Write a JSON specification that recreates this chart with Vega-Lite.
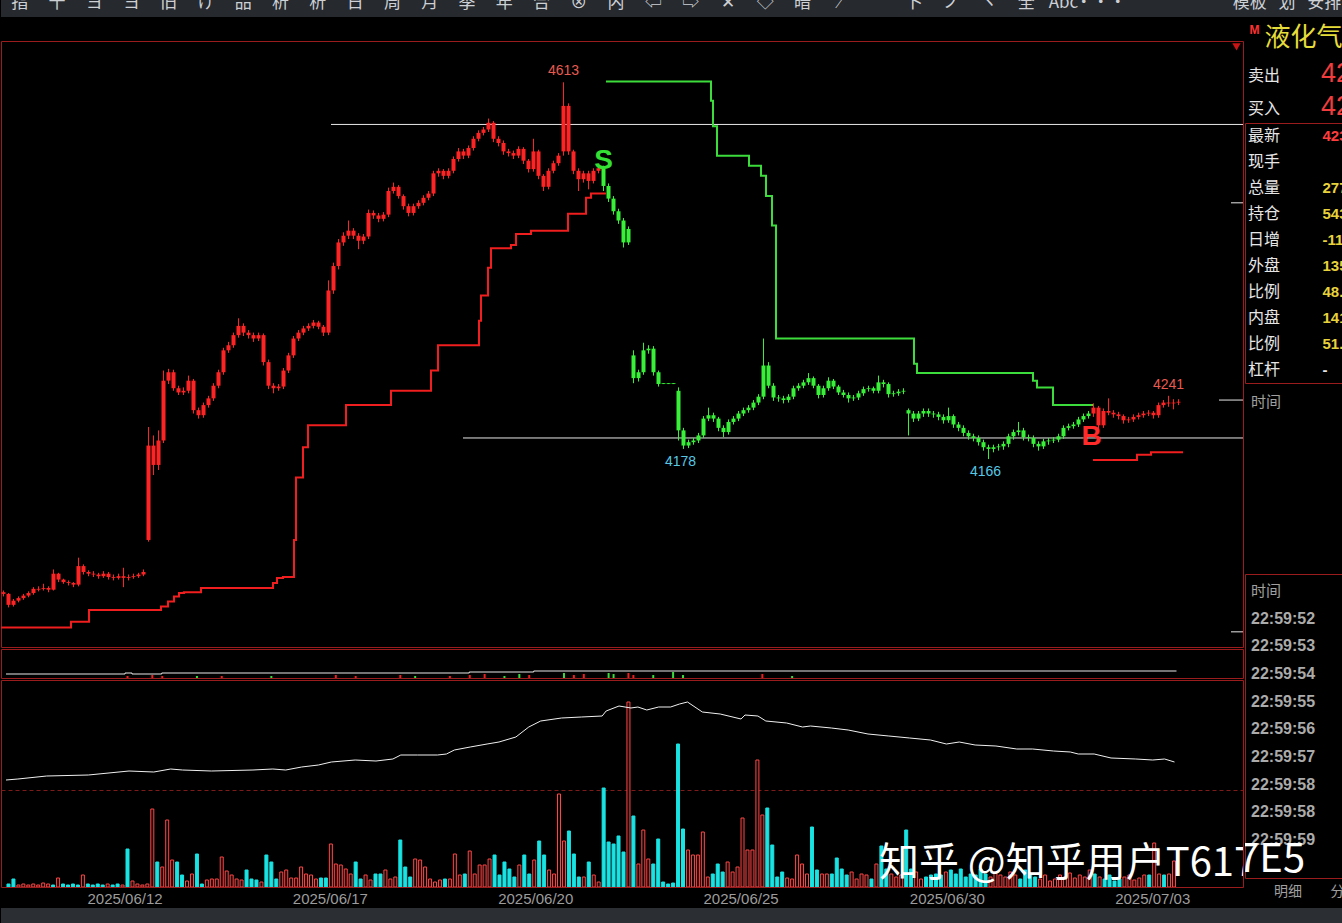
{
"$schema": "https://vega.github.io/schema/vega-lite/v6.json",
"background": "#000000",
"padding": 0,
"spacing": 0,
"config": {"view": {"stroke": "#9b1c1c", "strokeWidth": 1}, "text": {"font": "Noto Sans CJK SC"}, "axis": {"minExtent": 0, "maxExtent": 0, "tickSize": 0, "labelPadding": 0, "offset": 0}},
"datasets": {
"k": [
{"i":0,"o":4008,"h":4010,"l":4003,"c":4006,"v":30},
{"i":1,"o":4006,"h":4007,"l":3990,"c":3993,"v":80},
{"i":2,"o":3993,"h":4000,"l":3991,"c":3998,"v":20},
{"i":3,"o":3998,"h":4003,"l":3996,"c":4001,"v":30},
{"i":4,"o":4001,"h":4006,"l":3999,"c":4004,"v":20},
{"i":5,"o":4004,"h":4009,"l":4002,"c":4007,"v":30},
{"i":6,"o":4007,"h":4014,"l":4005,"c":4012,"v":20},
{"i":7,"o":4011,"h":4015,"l":4009,"c":4012,"v":40},
{"i":8,"o":4012,"h":4018,"l":4010,"c":4013,"v":30},
{"i":9,"o":4013,"h":4015,"l":4008,"c":4011,"v":20},
{"i":10,"o":4011,"h":4035,"l":4010,"c":4030,"v":90},
{"i":11,"o":4030,"h":4031,"l":4020,"c":4023,"v":30},
{"i":12,"o":4023,"h":4024,"l":4018,"c":4020,"v":20},
{"i":13,"o":4020,"h":4022,"l":4016,"c":4019,"v":30},
{"i":14,"o":4019,"h":4020,"l":4014,"c":4017,"v":20},
{"i":15,"o":4017,"h":4049,"l":4015,"c":4039,"v":120},
{"i":16,"o":4039,"h":4041,"l":4029,"c":4032,"v":30},
{"i":17,"o":4032,"h":4034,"l":4027,"c":4030,"v":20},
{"i":18,"o":4030,"h":4033,"l":4026,"c":4029,"v":30},
{"i":19,"o":4029,"h":4031,"l":4024,"c":4027,"v":20},
{"i":20,"o":4027,"h":4033,"l":4025,"c":4030,"v":30},
{"i":21,"o":4030,"h":4032,"l":4023,"c":4026,"v":20},
{"i":22,"o":4026,"h":4029,"l":4022,"c":4025,"v":30},
{"i":23,"o":4025,"h":4030,"l":4023,"c":4027,"v":20},
{"i":24,"o":4027,"h":4037,"l":4014,"c":4025,"v":380},
{"i":25,"o":4025,"h":4029,"l":4022,"c":4026,"v":60},
{"i":26,"o":4026,"h":4030,"l":4024,"c":4027,"v":30},
{"i":27,"o":4027,"h":4031,"l":4025,"c":4029,"v":20},
{"i":28,"o":4029,"h":4035,"l":4027,"c":4032,"v":30},
{"i":29,"o":4070,"h":4204,"l":4068,"c":4182,"v":780},
{"i":30,"o":4182,"h":4194,"l":4147,"c":4159,"v":250},
{"i":31,"o":4159,"h":4200,"l":4153,"c":4188,"v":200},
{"i":32,"o":4188,"h":4271,"l":4185,"c":4259,"v":670},
{"i":33,"o":4259,"h":4273,"l":4255,"c":4269,"v":270},
{"i":34,"o":4269,"h":4272,"l":4247,"c":4250,"v":250},
{"i":35,"o":4250,"h":4253,"l":4242,"c":4245,"v":120},
{"i":36,"o":4245,"h":4251,"l":4242,"c":4247,"v":60},
{"i":37,"o":4247,"h":4265,"l":4244,"c":4259,"v":130},
{"i":38,"o":4259,"h":4261,"l":4220,"c":4224,"v":330},
{"i":39,"o":4224,"h":4227,"l":4214,"c":4218,"v":30},
{"i":40,"o":4218,"h":4233,"l":4215,"c":4230,"v":70},
{"i":41,"o":4230,"h":4241,"l":4227,"c":4238,"v":80},
{"i":42,"o":4238,"h":4256,"l":4235,"c":4253,"v":80},
{"i":43,"o":4253,"h":4272,"l":4250,"c":4269,"v":300},
{"i":44,"o":4269,"h":4298,"l":4266,"c":4295,"v":160},
{"i":45,"o":4295,"h":4305,"l":4292,"c":4301,"v":120},
{"i":46,"o":4301,"h":4316,"l":4298,"c":4313,"v":80},
{"i":47,"o":4313,"h":4333,"l":4310,"c":4324,"v":70},
{"i":48,"o":4324,"h":4327,"l":4312,"c":4316,"v":170},
{"i":49,"o":4316,"h":4319,"l":4309,"c":4313,"v":80},
{"i":50,"o":4313,"h":4316,"l":4305,"c":4309,"v":70},
{"i":51,"o":4309,"h":4316,"l":4306,"c":4313,"v":50},
{"i":52,"o":4313,"h":4315,"l":4277,"c":4281,"v":320},
{"i":53,"o":4281,"h":4284,"l":4249,"c":4253,"v":250},
{"i":54,"o":4253,"h":4256,"l":4244,"c":4250,"v":80},
{"i":55,"o":4250,"h":4255,"l":4247,"c":4252,"v":150},
{"i":56,"o":4252,"h":4274,"l":4249,"c":4271,"v":170},
{"i":57,"o":4271,"h":4292,"l":4268,"c":4289,"v":90},
{"i":58,"o":4289,"h":4312,"l":4286,"c":4309,"v":90},
{"i":59,"o":4309,"h":4319,"l":4306,"c":4316,"v":200},
{"i":60,"o":4316,"h":4324,"l":4313,"c":4321,"v":130},
{"i":61,"o":4321,"h":4327,"l":4318,"c":4324,"v":120},
{"i":62,"o":4324,"h":4331,"l":4321,"c":4328,"v":80},
{"i":63,"o":4328,"h":4330,"l":4320,"c":4323,"v":90},
{"i":64,"o":4323,"h":4325,"l":4312,"c":4316,"v":90},
{"i":65,"o":4316,"h":4378,"l":4313,"c":4366,"v":430},
{"i":66,"o":4366,"h":4399,"l":4362,"c":4395,"v":230},
{"i":67,"o":4395,"h":4427,"l":4391,"c":4423,"v":220},
{"i":68,"o":4423,"h":4435,"l":4419,"c":4431,"v":180},
{"i":69,"o":4431,"h":4449,"l":4427,"c":4437,"v":130},
{"i":70,"o":4437,"h":4440,"l":4427,"c":4431,"v":250},
{"i":71,"o":4431,"h":4434,"l":4415,"c":4425,"v":80},
{"i":72,"o":4425,"h":4433,"l":4421,"c":4430,"v":120},
{"i":73,"o":4430,"h":4462,"l":4427,"c":4458,"v":70},
{"i":74,"o":4458,"h":4461,"l":4451,"c":4455,"v":130},
{"i":75,"o":4455,"h":4458,"l":4447,"c":4451,"v":130},
{"i":76,"o":4451,"h":4459,"l":4448,"c":4456,"v":170},
{"i":77,"o":4456,"h":4488,"l":4453,"c":4484,"v":80},
{"i":78,"o":4484,"h":4494,"l":4481,"c":4489,"v":100},
{"i":79,"o":4489,"h":4491,"l":4475,"c":4478,"v":470},
{"i":80,"o":4478,"h":4480,"l":4462,"c":4466,"v":200},
{"i":81,"o":4466,"h":4469,"l":4454,"c":4458,"v":100},
{"i":82,"o":4458,"h":4469,"l":4455,"c":4466,"v":280},
{"i":83,"o":4466,"h":4473,"l":4463,"c":4470,"v":270},
{"i":84,"o":4470,"h":4479,"l":4467,"c":4476,"v":200},
{"i":85,"o":4476,"h":4484,"l":4473,"c":4481,"v":80},
{"i":86,"o":4481,"h":4508,"l":4478,"c":4505,"v":50},
{"i":87,"o":4505,"h":4511,"l":4501,"c":4508,"v":70},
{"i":88,"o":4508,"h":4510,"l":4498,"c":4502,"v":80},
{"i":89,"o":4502,"h":4511,"l":4499,"c":4508,"v":80},
{"i":90,"o":4508,"h":4525,"l":4505,"c":4522,"v":330},
{"i":91,"o":4522,"h":4535,"l":4519,"c":4531,"v":120},
{"i":92,"o":4531,"h":4534,"l":4522,"c":4526,"v":130},
{"i":93,"o":4526,"h":4538,"l":4523,"c":4535,"v":360},
{"i":94,"o":4535,"h":4549,"l":4532,"c":4546,"v":130},
{"i":95,"o":4546,"h":4556,"l":4543,"c":4553,"v":220},
{"i":96,"o":4553,"h":4560,"l":4550,"c":4557,"v":220},
{"i":97,"o":4557,"h":4570,"l":4554,"c":4565,"v":280},
{"i":98,"o":4565,"h":4567,"l":4542,"c":4546,"v":320},
{"i":99,"o":4546,"h":4549,"l":4537,"c":4541,"v":120},
{"i":100,"o":4541,"h":4544,"l":4527,"c":4531,"v":250},
{"i":101,"o":4531,"h":4534,"l":4525,"c":4529,"v":180},
{"i":102,"o":4529,"h":4532,"l":4522,"c":4526,"v":100},
{"i":103,"o":4526,"h":4537,"l":4523,"c":4534,"v":220},
{"i":104,"o":4534,"h":4536,"l":4516,"c":4520,"v":320},
{"i":105,"o":4520,"h":4522,"l":4506,"c":4510,"v":130},
{"i":106,"o":4510,"h":4546,"l":4507,"c":4531,"v":270},
{"i":107,"o":4531,"h":4533,"l":4498,"c":4502,"v":460},
{"i":108,"o":4502,"h":4504,"l":4484,"c":4489,"v":320},
{"i":109,"o":4489,"h":4511,"l":4486,"c":4508,"v":170},
{"i":110,"o":4508,"h":4520,"l":4505,"c":4517,"v":130},
{"i":111,"o":4517,"h":4529,"l":4514,"c":4526,"v":930},
{"i":112,"o":4531,"h":4613,"l":4526,"c":4585,"v":460},
{"i":113,"o":4585,"h":4588,"l":4527,"c":4531,"v":560},
{"i":114,"o":4531,"h":4533,"l":4504,"c":4508,"v":330},
{"i":115,"o":4508,"h":4511,"l":4484,"c":4498,"v":100},
{"i":116,"o":4498,"h":4508,"l":4494,"c":4505,"v":100},
{"i":117,"o":4505,"h":4508,"l":4486,"c":4496,"v":250},
{"i":118,"o":4496,"h":4511,"l":4493,"c":4508,"v":120},
{"i":119,"o":4508,"h":4514,"l":4505,"c":4511,"v":50},
{"i":120,"o":4511,"h":4514,"l":4484,"c":4490,"v":990},
{"i":121,"o":4490,"h":4493,"l":4471,"c":4475,"v":450},
{"i":122,"o":4475,"h":4478,"l":4456,"c":4460,"v":430},
{"i":123,"o":4460,"h":4463,"l":4445,"c":4449,"v":510},
{"i":124,"o":4449,"h":4452,"l":4417,"c":4423,"v":350},
{"i":125,"o":4423,"h":4442,"l":4420,"c":4439,"v":1850},
{"i":126,"o":4289,"h":4295,"l":4256,"c":4262,"v":710},
{"i":127,"o":4262,"h":4272,"l":4258,"c":4269,"v":230},
{"i":128,"o":4269,"h":4304,"l":4266,"c":4295,"v":570},
{"i":129,"o":4295,"h":4301,"l":4291,"c":4297,"v":280},
{"i":130,"o":4297,"h":4300,"l":4265,"c":4269,"v":230},
{"i":131,"o":4269,"h":4271,"l":4252,"c":4255,"v":480},
{"i":132,"o":4256,"h":4256,"l":4255,"c":4255,"v":50},
{"i":133,"o":4256,"h":4256,"l":4255,"c":4255,"v":30},
{"i":134,"o":4256,"h":4256,"l":4255,"c":4255,"v":40},
{"i":135,"o":4247,"h":4251,"l":4188,"c":4200,"v":1430},
{"i":136,"o":4200,"h":4203,"l":4178,"c":4182,"v":580},
{"i":137,"o":4182,"h":4189,"l":4179,"c":4186,"v":370},
{"i":138,"o":4186,"h":4191,"l":4183,"c":4188,"v":320},
{"i":139,"o":4188,"h":4197,"l":4185,"c":4194,"v":320},
{"i":140,"o":4194,"h":4217,"l":4191,"c":4214,"v":550},
{"i":141,"o":4214,"h":4227,"l":4211,"c":4218,"v":100},
{"i":142,"o":4218,"h":4221,"l":4210,"c":4214,"v":130},
{"i":143,"o":4214,"h":4216,"l":4199,"c":4203,"v":230},
{"i":144,"o":4203,"h":4206,"l":4192,"c":4198,"v":150},
{"i":145,"o":4198,"h":4213,"l":4195,"c":4210,"v":250},
{"i":146,"o":4210,"h":4217,"l":4207,"c":4214,"v":150},
{"i":147,"o":4214,"h":4223,"l":4211,"c":4220,"v":200},
{"i":148,"o":4220,"h":4227,"l":4217,"c":4224,"v":690},
{"i":149,"o":4224,"h":4230,"l":4221,"c":4227,"v":370},
{"i":150,"o":4227,"h":4236,"l":4224,"c":4233,"v":370},
{"i":151,"o":4233,"h":4243,"l":4230,"c":4240,"v":1270},
{"i":152,"o":4240,"h":4309,"l":4237,"c":4277,"v":720},
{"i":153,"o":4277,"h":4281,"l":4250,"c":4253,"v":790},
{"i":154,"o":4253,"h":4256,"l":4235,"c":4239,"v":420},
{"i":155,"o":4239,"h":4242,"l":4234,"c":4238,"v":100},
{"i":156,"o":4238,"h":4241,"l":4232,"c":4236,"v":150},
{"i":157,"o":4236,"h":4243,"l":4233,"c":4240,"v":90},
{"i":158,"o":4240,"h":4253,"l":4237,"c":4250,"v":80},
{"i":159,"o":4250,"h":4256,"l":4247,"c":4253,"v":320},
{"i":160,"o":4253,"h":4260,"l":4250,"c":4257,"v":230},
{"i":161,"o":4257,"h":4268,"l":4254,"c":4262,"v":130},
{"i":162,"o":4262,"h":4264,"l":4250,"c":4253,"v":600},
{"i":163,"o":4253,"h":4255,"l":4238,"c":4242,"v":170},
{"i":164,"o":4242,"h":4253,"l":4239,"c":4250,"v":130},
{"i":165,"o":4250,"h":4263,"l":4247,"c":4259,"v":130},
{"i":166,"o":4259,"h":4261,"l":4249,"c":4252,"v":130},
{"i":167,"o":4252,"h":4254,"l":4242,"c":4245,"v":290},
{"i":168,"o":4245,"h":4248,"l":4239,"c":4242,"v":180},
{"i":169,"o":4242,"h":4245,"l":4233,"c":4238,"v":120},
{"i":170,"o":4238,"h":4242,"l":4235,"c":4239,"v":150},
{"i":171,"o":4239,"h":4247,"l":4236,"c":4244,"v":80},
{"i":172,"o":4244,"h":4252,"l":4241,"c":4249,"v":130},
{"i":173,"o":4249,"h":4253,"l":4246,"c":4250,"v":120},
{"i":174,"o":4250,"h":4252,"l":4244,"c":4247,"v":80},
{"i":175,"o":4247,"h":4265,"l":4244,"c":4257,"v":230},
{"i":176,"o":4257,"h":4260,"l":4251,"c":4255,"v":410},
{"i":177,"o":4255,"h":4257,"l":4239,"c":4243,"v":180},
{"i":178,"o":4243,"h":4247,"l":4240,"c":4244,"v":130},
{"i":179,"o":4244,"h":4249,"l":4241,"c":4246,"v":100},
{"i":180,"o":4246,"h":4250,"l":4243,"c":4247,"v":120},
{"i":181,"o":4224,"h":4226,"l":4194,"c":4220,"v":570},
{"i":182,"o":4220,"h":4223,"l":4210,"c":4214,"v":180},
{"i":183,"o":4214,"h":4223,"l":4211,"c":4220,"v":150},
{"i":184,"o":4220,"h":4226,"l":4216,"c":4223,"v":80},
{"i":185,"o":4223,"h":4226,"l":4216,"c":4220,"v":100},
{"i":186,"o":4220,"h":4223,"l":4215,"c":4219,"v":120},
{"i":187,"o":4219,"h":4222,"l":4212,"c":4216,"v":130},
{"i":188,"o":4216,"h":4219,"l":4208,"c":4212,"v":120},
{"i":189,"o":4212,"h":4227,"l":4209,"c":4217,"v":150},
{"i":190,"o":4217,"h":4219,"l":4203,"c":4207,"v":170},
{"i":191,"o":4207,"h":4210,"l":4199,"c":4203,"v":130},
{"i":192,"o":4203,"h":4206,"l":4193,"c":4197,"v":180},
{"i":193,"o":4197,"h":4200,"l":4189,"c":4193,"v":100},
{"i":194,"o":4193,"h":4196,"l":4187,"c":4191,"v":130},
{"i":195,"o":4191,"h":4194,"l":4182,"c":4186,"v":120},
{"i":196,"o":4186,"h":4189,"l":4176,"c":4180,"v":180},
{"i":197,"o":4180,"h":4183,"l":4166,"c":4178,"v":130},
{"i":198,"o":4178,"h":4183,"l":4174,"c":4180,"v":100},
{"i":199,"o":4180,"h":4184,"l":4176,"c":4181,"v":150},
{"i":200,"o":4181,"h":4187,"l":4177,"c":4184,"v":120},
{"i":201,"o":4184,"h":4196,"l":4180,"c":4193,"v":100},
{"i":202,"o":4193,"h":4201,"l":4189,"c":4198,"v":150},
{"i":203,"o":4198,"h":4210,"l":4194,"c":4200,"v":120},
{"i":204,"o":4200,"h":4203,"l":4188,"c":4192,"v":80},
{"i":205,"o":4192,"h":4195,"l":4187,"c":4191,"v":170},
{"i":206,"o":4191,"h":4194,"l":4180,"c":4184,"v":130},
{"i":207,"o":4184,"h":4187,"l":4176,"c":4181,"v":100},
{"i":208,"o":4181,"h":4190,"l":4178,"c":4187,"v":80},
{"i":209,"o":4187,"h":4191,"l":4183,"c":4188,"v":120},
{"i":210,"o":4188,"h":4192,"l":4185,"c":4189,"v":60},
{"i":211,"o":4189,"h":4196,"l":4186,"c":4193,"v":80},
{"i":212,"o":4193,"h":4206,"l":4190,"c":4203,"v":120},
{"i":213,"o":4203,"h":4208,"l":4200,"c":4205,"v":100},
{"i":214,"o":4205,"h":4210,"l":4202,"c":4207,"v":140},
{"i":215,"o":4207,"h":4216,"l":4204,"c":4213,"v":90},
{"i":216,"o":4213,"h":4220,"l":4210,"c":4217,"v":120},
{"i":217,"o":4217,"h":4223,"l":4214,"c":4220,"v":100},
{"i":218,"o":4220,"h":4232,"l":4216,"c":4227,"v":170},
{"i":219,"o":4227,"h":4229,"l":4200,"c":4206,"v":130},
{"i":220,"o":4206,"h":4226,"l":4203,"c":4223,"v":100},
{"i":221,"o":4223,"h":4238,"l":4218,"c":4221,"v":80},
{"i":222,"o":4221,"h":4224,"l":4215,"c":4219,"v":120},
{"i":223,"o":4219,"h":4222,"l":4213,"c":4217,"v":60},
{"i":224,"o":4217,"h":4219,"l":4208,"c":4212,"v":80},
{"i":225,"o":4212,"h":4216,"l":4209,"c":4213,"v":100},
{"i":226,"o":4213,"h":4219,"l":4210,"c":4216,"v":120},
{"i":227,"o":4216,"h":4221,"l":4213,"c":4218,"v":70},
{"i":228,"o":4218,"h":4223,"l":4215,"c":4220,"v":90},
{"i":229,"o":4220,"h":4224,"l":4217,"c":4221,"v":120},
{"i":230,"o":4221,"h":4223,"l":4214,"c":4218,"v":120},
{"i":231,"o":4218,"h":4233,"l":4215,"c":4230,"v":440},
{"i":232,"o":4230,"h":4236,"l":4227,"c":4233,"v":130},
{"i":233,"o":4233,"h":4241,"l":4228,"c":4232,"v":120},
{"i":234,"o":4232,"h":4237,"l":4225,"c":4233,"v":130},
{"i":235,"o":4233,"h":4237,"l":4230,"c":4234,"v":260}
],
"stop": [
{"s":"r1","i":-0.5,"p":3966},{"s":"r1","i":13.5,"p":3973},{"s":"r1","i":17.1,"p":3987},{"s":"r1","i":31.5,"p":3991},
{"s":"r1","i":32.9,"p":3997},{"s":"r1","i":34.1,"p":4003},{"s":"r1","i":35.1,"p":4007},{"s":"r1","i":36.1,"p":4008},
{"s":"r1","i":39.5,"p":4013},{"s":"r1","i":53.9,"p":4019},{"s":"r1","i":54.7,"p":4025},{"s":"r1","i":55.9,"p":4026},
{"s":"r1","i":58.1,"p":4070},{"s":"r1","i":58.5,"p":4144},{"s":"r1","i":59.9,"p":4180},{"s":"r1","i":60.9,"p":4206},
{"s":"r1","i":68.5,"p":4230},{"s":"r1","i":77.5,"p":4247},{"s":"r1","i":85.5,"p":4271},{"s":"r1","i":86.9,"p":4301},
{"s":"r1","i":95.1,"p":4330},{"s":"r1","i":95.5,"p":4360},{"s":"r1","i":96.9,"p":4393},{"s":"r1","i":97.5,"p":4416},
{"s":"r1","i":101.5,"p":4420},{"s":"r1","i":102.5,"p":4433},{"s":"r1","i":105.5,"p":4437},{"s":"r1","i":112.9,"p":4457},
{"s":"r1","i":116.5,"p":4476},{"s":"r1","i":117.5,"p":4481},{"s":"r1","i":120.5,"p":4481},
{"s":"g","i":120.5,"p":4614},{"s":"g","i":141.5,"p":4591},{"s":"g","i":141.9,"p":4561},{"s":"g","i":142.7,"p":4526},
{"s":"g","i":149.1,"p":4514},{"s":"g","i":151.5,"p":4502},{"s":"g","i":152.5,"p":4478},{"s":"g","i":153.7,"p":4443},
{"s":"g","i":154.5,"p":4309},{"s":"g","i":182.1,"p":4279},{"s":"g","i":182.7,"p":4268},{"s":"g","i":205.9,"p":4259},
{"s":"g","i":206.7,"p":4251},{"s":"g","i":209.9,"p":4230},{"s":"g","i":217.9,"p":4230},
{"s":"r2","i":217.9,"p":4165},{"s":"r2","i":226.7,"p":4171},{"s":"r2","i":229.5,"p":4174},{"s":"r2","i":235.9,"p":4174}
],
"oi": [
{"i":-0.5,"oi":489000},{"i":1.9,"oi":492000},{"i":7.7,"oi":501000},{"i":16.1,"oi":504000},{"i":24.3,"oi":516000},
{"i":29.3,"oi":513000},{"i":32.7,"oi":522000},{"i":35.1,"oi":519000},{"i":40.9,"oi":516000},{"i":49.3,"oi":519000},
{"i":53.3,"oi":522000},{"i":55.9,"oi":519000},{"i":59.1,"oi":528000},{"i":62.5,"oi":534000},{"i":65.1,"oi":543000},
{"i":69.9,"oi":549000},{"i":74.1,"oi":546000},{"i":77.5,"oi":552000},{"i":79.1,"oi":564000},{"i":82.5,"oi":564000},
{"i":86.5,"oi":564000},{"i":88.3,"oi":567000},{"i":89.9,"oi":579000},{"i":93.1,"oi":588000},{"i":96.5,"oi":597000},
{"i":98.9,"oi":603000},{"i":102.3,"oi":618000},{"i":104.9,"oi":648000},{"i":107.3,"oi":666000},{"i":111.5,"oi":675000},
{"i":115.5,"oi":678000},{"i":119.7,"oi":681000},{"i":120.5,"oi":696000},{"i":123.1,"oi":711000},{"i":125.5,"oi":705000},
{"i":126.9,"oi":708000},{"i":128.7,"oi":699000},{"i":131.1,"oi":708000},{"i":133.5,"oi":708000},{"i":135.3,"oi":717000},
{"i":136.9,"oi":723000},{"i":139.9,"oi":693000},{"i":143.5,"oi":687000},{"i":147.7,"oi":672000},{"i":148.5,"oi":684000},
{"i":151.1,"oi":681000},{"i":152.7,"oi":666000},{"i":156.9,"oi":660000},{"i":160.1,"oi":648000},{"i":161.7,"oi":651000},
{"i":165.9,"oi":645000},{"i":169.3,"oi":639000},{"i":173.3,"oi":627000},{"i":177.5,"oi":621000},{"i":181.7,"oi":615000},
{"i":185.9,"oi":609000},{"i":189.1,"oi":597000},{"i":191.7,"oi":603000},{"i":194.9,"oi":594000},{"i":199.1,"oi":591000},
{"i":203.3,"oi":582000},{"i":206.5,"oi":582000},{"i":210.7,"oi":576000},{"i":214.1,"oi":573000},{"i":215.7,"oi":567000},
{"i":218.9,"oi":567000},{"i":222.3,"oi":555000},{"i":227.3,"oi":552000},{"i":230.7,"oi":549000},{"i":233.1,"oi":552000},
{"i":235.1,"oi":543000}
],
"osc": [
{"i":-0.5,"v":4},{"i":23.5,"v":5},{"i":24.9,"v":4},{"i":30.9,"v":5},{"i":92.9,"v":6},{"i":105.9,"v":7},{"i":235.5,"v":7}
],
"oscbar": [
{"i":24,"b":2,"d":"up"},{"i":29,"b":3,"d":"up"},{"i":31,"b":2,"d":"up"},{"i":38,"b":2,"d":"down"},{"i":43,"b":2,"d":"up"},
{"i":53,"b":2,"d":"down"},{"i":66,"b":3,"d":"up"},{"i":70,"b":2,"d":"up"},{"i":79,"b":3,"d":"up"},{"i":82,"b":2,"d":"down"},
{"i":89,"b":2,"d":"up"},{"i":93,"b":3,"d":"up"},{"i":96,"b":4,"d":"up"},{"i":100,"b":2,"d":"down"},{"i":103,"b":4,"d":"down"},
{"i":105,"b":3,"d":"up"},{"i":112,"b":5,"d":"down"},{"i":114,"b":3,"d":"up"},{"i":116,"b":4,"d":"up"},{"i":121,"b":5,"d":"down"},
{"i":122,"b":4,"d":"down"},{"i":125,"b":5,"d":"up"},{"i":126,"b":3,"d":"up"},{"i":130,"b":3,"d":"down"},{"i":134,"b":6,"d":"down"},
{"i":136,"b":3,"d":"down"},{"i":152,"b":4,"d":"up"},{"i":158,"b":2,"d":"down"}
],
"tools": [
{"k":0,"g":"指"},{"k":1,"g":"十"},{"k":2,"g":"ヨ"},{"k":3,"g":"ヨ"},{"k":4,"g":"旧"},{"k":5,"g":"け"},{"k":6,"g":"品"},
{"k":7,"g":"析"},{"k":8,"g":"析"},{"k":9,"g":"日"},{"k":10,"g":"周"},{"k":11,"g":"月"},{"k":12,"g":"季"},{"k":13,"g":"年"},
{"k":14,"g":"合"},{"k":15,"g":"⊗"},{"k":16,"g":"内"},{"k":17,"g":"⇦"},{"k":18,"g":"⇨"},{"k":19,"g":"✕"},{"k":20,"g":"◇"},
{"k":21,"g":"暗"},{"k":22,"g":"⁄"},{"k":23,"g":""},{"k":24,"g":"卜"},{"k":25,"g":"ノ"},{"k":26,"g":"ヽ"},{"k":27,"g":"全"},
{"k":28,"g":"Abc"},{"k":29,"g":"•••"},{"k":30,"g":""},{"k":31,"g":""},{"k":32,"g":""},{"k":33,"g":"模板"},{"k":34,"g":"划"},{"k":35,"g":"安排"}
]
},
"vconcat": [
{"width": 1342, "height": 17, "view": {"fill": "#26292e", "stroke": null},
 "data": {"name": "tools"},
 "mark": {"type": "text", "color": "#cdd0d5", "fontSize": 17, "baseline": "bottom", "dy": 3.5, "clip": true},
 "encoding": {"x": {"field": "k", "type": "ordinal", "scale": {"type": "point", "padding": 0.5}, "axis": null}, "text": {"field": "g"}}},
{"hconcat": [
 {"vconcat": [
  {"width": 1242, "height": 23, "view": {"stroke": null}, "data": {"values": []}, "mark": {"type": "point", "opacity": 0}},
  {"width": 1242, "height": 606,
   "layer": [
    {"data": {"values": [{"x1": 65.5, "x2": 247.9, "p": 4563}, {"x1": 91.9, "x2": 247.9, "p": 4191}, {"x1": 243.1, "x2": 247.9, "p": 4236}, {"x1": 245.5, "x2": 247.9, "p": 4470}, {"x1": 245.5, "x2": 247.9, "p": 3961}]},
     "mark": {"type": "rule", "color": "#e8e8e8", "strokeWidth": 1, "clip": true},
     "encoding": {
      "x": {"field": "x1", "type": "quantitative", "scale": {"domain": [-0.5, 247.9], "nice": false, "zero": false}, "axis": null},
      "x2": {"field": "x2"},
      "y": {"field": "p", "type": "quantitative", "scale": {"domain": [3943, 4662], "nice": false, "zero": false},
            "axis": {"values": [4200, 4400], "grid": true, "gridColor": "#7d1b1b", "gridDash": [4, 3], "labels": false, "ticks": false, "domain": false, "title": null}}}},
    {"data": {"name": "stop"},
     "mark": {"type": "line", "interpolate": "step-after", "strokeWidth": 2, "clip": true},
     "encoding": {
      "x": {"field": "i", "type": "quantitative", "scale": {"domain": [-0.5, 247.9], "nice": false, "zero": false}, "axis": null},
      "y": {"field": "p", "type": "quantitative", "scale": {"domain": [3943, 4662], "nice": false, "zero": false}, "axis": null},
      "color": {"field": "s", "type": "nominal", "scale": {"domain": ["r1", "g", "r2"], "range": ["#f01e1e", "#3cdc3c", "#f01e1e"]}, "legend": null}}},
    {"data": {"name": "k"},
     "mark": {"type": "rule", "strokeWidth": 1, "clip": true},
     "encoding": {
      "x": {"field": "i", "type": "quantitative", "scale": {"domain": [-0.5, 247.9], "nice": false, "zero": false}, "axis": null},
      "y": {"field": "l", "type": "quantitative", "scale": {"domain": [3943, 4662], "nice": false, "zero": false}, "axis": null},
      "y2": {"field": "h"},
      "color": {"condition": {"test": "datum.i >= 120 && datum.i <= 217", "value": "#38f038"}, "value": "#ff2424"}}},
    {"data": {"name": "k"},
     "mark": {"type": "rule", "strokeWidth": 4, "clip": true},
     "encoding": {
      "x": {"field": "i", "type": "quantitative", "scale": {"domain": [-0.5, 247.9], "nice": false, "zero": false}, "axis": null},
      "y": {"field": "o", "type": "quantitative", "scale": {"domain": [3943, 4662], "nice": false, "zero": false}, "axis": null},
      "y2": {"field": "c"},
      "color": {"condition": {"test": "datum.i >= 120 && datum.i <= 217", "value": "#38f038"}, "value": "#ff2424"}}},
    {"data": {"values": [{"i": 246.6, "p": 4655}]},
     "mark": {"type": "point", "shape": "triangle-down", "filled": true, "size": 70, "color": "#c81414", "opacity": 1, "clip": true},
     "encoding": {
      "x": {"field": "i", "type": "quantitative", "scale": {"domain": [-0.5, 247.9], "nice": false, "zero": false}, "axis": null},
      "y": {"field": "p", "type": "quantitative", "scale": {"domain": [3943, 4662], "nice": false, "zero": false}, "axis": null}}},
    {"data": {"values": [{"i": 112, "p": 4613, "t": "4613"}, {"i": 233, "p": 4241, "t": "4241"}]},
     "mark": {"type": "text", "color": "#e85a50", "fontSize": 14, "font": "Liberation Sans", "baseline": "bottom", "dy": -4},
     "encoding": {
      "x": {"field": "i", "type": "quantitative", "scale": {"domain": [-0.5, 247.9], "nice": false, "zero": false}, "axis": null},
      "y": {"field": "p", "type": "quantitative", "scale": {"domain": [3943, 4662], "nice": false, "zero": false}, "axis": null},
      "text": {"field": "t"}}},
    {"data": {"values": [{"i": 136, "p": 4178, "t": "4178"}, {"i": 197, "p": 4166, "t": "4166"}]},
     "mark": {"type": "text", "color": "#56c8e6", "fontSize": 14, "font": "Liberation Sans", "baseline": "top", "dy": 6, "dx": -3},
     "encoding": {
      "x": {"field": "i", "type": "quantitative", "scale": {"domain": [-0.5, 247.9], "nice": false, "zero": false}, "axis": null},
      "y": {"field": "p", "type": "quantitative", "scale": {"domain": [3943, 4662], "nice": false, "zero": false}, "axis": null},
      "text": {"field": "t"}}},
    {"data": {"values": [{"i": 120, "p": 4520, "t": "S"}]},
     "mark": {"type": "text", "color": "#33e033", "fontSize": 28, "fontWeight": "bold", "font": "Liberation Sans", "baseline": "middle"},
     "encoding": {
      "x": {"field": "i", "type": "quantitative", "scale": {"domain": [-0.5, 247.9], "nice": false, "zero": false}, "axis": null},
      "y": {"field": "p", "type": "quantitative", "scale": {"domain": [3943, 4662], "nice": false, "zero": false}, "axis": null},
      "text": {"field": "t"}}},
    {"data": {"values": [{"i": 218, "p": 4192, "t": "B"}]},
     "mark": {"type": "text", "color": "#ff2a2a", "fontSize": 28, "fontWeight": "bold", "font": "Liberation Sans", "baseline": "middle", "dx": -2},
     "encoding": {
      "x": {"field": "i", "type": "quantitative", "scale": {"domain": [-0.5, 247.9], "nice": false, "zero": false}, "axis": null},
      "y": {"field": "p", "type": "quantitative", "scale": {"domain": [3943, 4662], "nice": false, "zero": false}, "axis": null},
      "text": {"field": "t"}}}
   ]},
  {"width": 1242, "height": 29,
   "layer": [
    {"data": {"name": "oscbar"},
     "mark": {"type": "bar", "width": 2, "clip": true},
     "encoding": {
      "x": {"field": "i", "type": "quantitative", "scale": {"domain": [-0.5, 247.9], "nice": false, "zero": false}, "axis": null},
      "y": {"field": "b", "type": "quantitative", "scale": {"domain": [0, 29], "nice": false},
            "axis": {"values": [8], "grid": true, "gridColor": "#7d1b1b", "gridDash": [2, 2], "labels": false, "ticks": false, "domain": false, "title": null}},
      "color": {"field": "d", "type": "nominal", "scale": {"domain": ["up", "down"], "range": ["#e03030", "#19e3e3"]}, "legend": null}}},
    {"data": {"name": "osc"},
     "mark": {"type": "line", "interpolate": "step-after", "color": "#e8e8e8", "strokeWidth": 1, "clip": true},
     "encoding": {
      "x": {"field": "i", "type": "quantitative", "scale": {"domain": [-0.5, 247.9], "nice": false, "zero": false}, "axis": null},
      "y": {"field": "v", "type": "quantitative", "scale": {"domain": [0, 29], "nice": false}, "axis": null}}}
   ]},
  {"width": 1242, "height": 207,
   "layer": [
    {"data": {"name": "k"},
     "mark": {"type": "bar", "width": 3, "strokeWidth": 1, "clip": true},
     "encoding": {
      "x": {"field": "i", "type": "quantitative", "scale": {"domain": [-0.5, 247.9], "nice": false, "zero": false}, "axis": null},
      "y": {"field": "v", "type": "quantitative", "scale": {"domain": [0, 2070], "nice": false},
            "axis": {"values": [970], "grid": true, "gridColor": "#7d1b1b", "gridDash": [4, 3], "labels": false, "ticks": false, "domain": false, "title": null}},
      "fill": {"condition": {"test": "datum.c >= datum.o", "value": "#140404"}, "value": "#19e3e3"},
      "stroke": {"condition": {"test": "datum.c >= datum.o", "value": "#ff4646"}, "value": "#19e3e3"}}},
    {"data": {"name": "oi"},
     "mark": {"type": "line", "color": "#f0f0f0", "strokeWidth": 1, "clip": true},
     "encoding": {
      "x": {"field": "i", "type": "quantitative", "scale": {"domain": [-0.5, 247.9], "nice": false, "zero": false}, "axis": null},
      "y": {"field": "oi", "type": "quantitative", "scale": {"domain": [168000, 789000], "nice": false, "zero": false}, "axis": null}}},
    {"data": {"values": [{"i": 23.5, "d": "2025/06/12"}, {"i": 64.9, "d": "2025/06/17"}, {"i": 106.3, "d": "2025/06/20"}, {"i": 147.7, "d": "2025/06/25"}, {"i": 189.3, "d": "2025/06/30"}, {"i": 230.7, "d": "2025/07/03"}]},
     "mark": {"type": "text", "color": "#9c9c9c", "fontSize": 15, "font": "Liberation Sans", "baseline": "middle", "dy": 12},
     "encoding": {
      "x": {"field": "i", "type": "quantitative", "scale": {"domain": [-0.5, 247.9], "nice": false, "zero": false}, "axis": null},
      "y": {"datum": 0, "type": "quantitative", "scale": {"domain": [0, 2070], "nice": false}, "axis": null},
      "text": {"field": "d"}}},
    {"data": {"values": [{"t": "知乎 @知乎用户T617E5"}]},
     "mark": {"type": "text", "color": "#ffffff", "fontSize": 40, "font": "Noto Sans CJK SC", "align": "left", "baseline": "middle", "clip": true},
     "encoding": {
      "x": {"datum": 175.5, "type": "quantitative", "scale": {"domain": [-0.5, 247.9], "nice": false, "zero": false}, "axis": null},
      "y": {"datum": 230, "type": "quantitative", "scale": {"domain": [0, 2070], "nice": false}, "axis": null},
      "text": {"field": "t"}}}
   ],
   "resolve": {"scale": {"y": "independent"}}}
 ], "spacing": 0},
 {"vconcat": [
  {"width": 99, "height": 38,
   "layer": [
    {"data": {"values": [{"t": "M"}]},
     "mark": {"type": "text", "color": "#ff3030", "fontSize": 12, "fontWeight": "bold", "font": "Liberation Sans", "align": "left", "baseline": "middle", "dx": -45, "dy": -6},
     "encoding": {"text": {"field": "t"}}},
    {"data": {"values": [{"t": "液化气2508"}]},
     "mark": {"type": "text", "color": "#e6dc3a", "fontSize": 26, "font": "Noto Sans CJK SC", "align": "left", "baseline": "middle", "dx": -30, "dy": 2, "clip": true},
     "encoding": {"text": {"field": "t"}}}
   ]},
  {"width": 99, "height": 36,
   "data": {"values": [{"k": "卖出", "v": "4235"}]},
   "layer": [
    {"mark": {"type": "text", "color": "#e6e6e6", "fontSize": 16, "align": "left", "baseline": "middle", "dx": -46.5, "dy": 2.5},
     "encoding": {"text": {"field": "k"}}},
    {"mark": {"type": "text", "color": "#f03c3c", "fontSize": 27, "font": "Liberation Sans", "align": "left", "baseline": "middle", "dx": 26.5, "dy": 1, "clip": true},
     "encoding": {"text": {"field": "v"}}}
   ]},
  {"width": 99, "height": 31,
   "data": {"values": [{"k": "买入", "v": "4234"}]},
   "layer": [
    {"mark": {"type": "text", "color": "#e6e6e6", "fontSize": 16, "align": "left", "baseline": "middle", "dx": -46.5, "dy": 2.5},
     "encoding": {"text": {"field": "k"}}},
    {"mark": {"type": "text", "color": "#f03c3c", "fontSize": 27, "font": "Liberation Sans", "align": "left", "baseline": "middle", "dx": 26.5, "dy": 0.5, "clip": true},
     "encoding": {"text": {"field": "v"}}}
   ]},
  {"width": 99, "height": 260,
   "data": {"values": [
    {"n": 1, "k": "最新", "v": "4234"}, {"n": 2, "k": "现手", "v": ""}, {"n": 3, "k": "总量", "v": "277126"},
    {"n": 4, "k": "持仓", "v": "543158"}, {"n": 5, "k": "日增", "v": "-11207"}, {"n": 6, "k": "外盘", "v": "135186"},
    {"n": 7, "k": "比例", "v": "48.78%"}, {"n": 8, "k": "内盘", "v": "141940"}, {"n": 9, "k": "比例", "v": "51.22%"},
    {"n": 10, "k": "杠杆", "v": "-"}]},
   "encoding": {"y": {"field": "n", "type": "ordinal", "scale": {"type": "point", "padding": 0.5}, "axis": null}},
   "layer": [
    {"mark": {"type": "text", "color": "#e6e6e6", "fontSize": 16, "align": "left", "baseline": "middle", "dx": -46.5},
     "encoding": {"text": {"field": "k"}}},
    {"mark": {"type": "text", "fontSize": 15, "fontWeight": "bold", "font": "Liberation Sans", "align": "left", "baseline": "middle", "dx": 28, "clip": true},
     "encoding": {"text": {"field": "v"},
      "color": {"condition": [{"test": "datum.n == 1", "value": "#ff3c3c"}, {"test": "datum.n == 10", "value": "#e6e6e6"}], "value": "#e8d23c"}}}
   ]},
  {"width": 99, "height": 189,
   "data": {"values": [{"t": "时间"}]},
   "mark": {"type": "text", "color": "#a0a0a0", "fontSize": 15, "align": "left", "baseline": "middle", "dx": -43.5, "dy": -77},
   "encoding": {"text": {"field": "t"}}},
  {"width": 99, "height": 304,
   "layer": [
    {"data": {"values": [{"n": 0, "t": "时间"}]},
     "mark": {"type": "text", "color": "#a0a0a0", "fontSize": 15, "align": "left", "baseline": "middle", "dx": -43.5},
     "encoding": {"y": {"field": "n", "type": "ordinal", "scale": {"type": "point", "padding": 0.994, "align": 0.31, "domain": [0, 1, 2, 3, 4, 5, 6, 7, 8, 9]}, "axis": null}, "text": {"field": "t"}}},
    {"data": {"values": [
      {"n": 1, "t": "22:59:52"}, {"n": 2, "t": "22:59:53"}, {"n": 3, "t": "22:59:54"}, {"n": 4, "t": "22:59:55"},
      {"n": 5, "t": "22:59:56"}, {"n": 6, "t": "22:59:57"}, {"n": 7, "t": "22:59:58"}, {"n": 8, "t": "22:59:58"}, {"n": 9, "t": "22:59:59"}]},
     "mark": {"type": "text", "color": "#ababab", "fontSize": 16, "fontWeight": "bold", "font": "Liberation Sans", "align": "left", "baseline": "middle", "dx": -43.5},
     "encoding": {"y": {"field": "n", "type": "ordinal", "scale": {"type": "point", "padding": 0.994, "align": 0.31, "domain": [0, 1, 2, 3, 4, 5, 6, 7, 8, 9]}, "axis": null}, "text": {"field": "t"}}},
    {"data": {"values": [{"t": "知乎 @知乎用户T617E5"}]},
     "mark": {"type": "text", "color": "#ffffff", "fontSize": 40, "font": "Noto Sans CJK SC", "align": "left", "baseline": "middle", "dx": -412.5, "dy": 134, "clip": true},
     "encoding": {"text": {"field": "t"}}}
   ]},
  {"width": 99, "height": 26,
   "data": {"values": [{"a": "明细", "b": "分时"}]},
   "layer": [
    {"mark": {"type": "text", "color": "#a0a0a0", "fontSize": 14, "align": "center", "baseline": "middle", "dx": -6.5},
     "encoding": {"text": {"field": "a"}}},
    {"mark": {"type": "text", "color": "#a0a0a0", "fontSize": 14, "align": "left", "baseline": "middle", "dx": 36, "clip": true},
     "encoding": {"text": {"field": "b"}}}
   ]}
 ], "spacing": 0}
], "spacing": 0},
{"width": 1342, "height": 15, "view": {"fill": "#2b2e33", "stroke": null}, "data": {"values": []}, "mark": {"type": "point", "opacity": 0}}
]
}
